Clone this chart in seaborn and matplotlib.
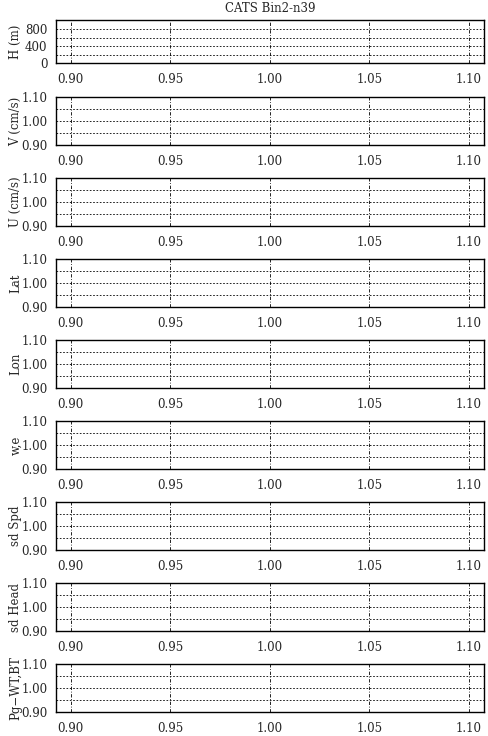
import numpy as np
import matplotlib
matplotlib.use('Agg')
import matplotlib.pyplot as plt
from matplotlib.ticker import FixedLocator, FixedFormatter
import seaborn as sns

# Panel labels (top to bottom)
panel_labels = ['H (m)', 'V (cm/s)', 'U (cm/s)', 'Lat', 'Lon', 'w,e',
                'sd Spd', 'sd Head', 'Pg\u2212WT,BT']

# Shared x axis (no data in any panel)
x_ticks = [0.90, 0.95, 1.00, 1.05, 1.10]
x_tick_labels = ['0.90', '0.95', '1.00', '1.05', '1.10']
x_limits = (0.8925, 1.1075)

# H panel y axis
h_major = [0, 400, 800]
h_minor = [200, 600]
h_limits = (0, 1020)

# Other panels y axis
y_major = [0.90, 1.00, 1.10]
y_labels = ['0.90', '1.00', '1.10']
y_minor = [0.95, 1.05]
y_limits = (0.90, 1.10)

sns.set_style('white')
plt.rcParams['font.family'] = ['DejaVu Serif']
plt.rcParams['font.size'] = 8.5

W, H = 488, 736
fig = plt.figure(figsize=(W / 100, H / 100), dpi=100)

left_px, right_px = 55.7, 484
tops = [20] + [97 + 81 * i for i in range(8)]
heights = [43] + [48] * 8

for i, label in enumerate(panel_labels):
    top, h = tops[i], heights[i]
    ax = fig.add_axes([left_px / W, 1 - (top + h) / H,
                       (right_px - left_px) / W, h / H])
    ax.set_xlim(*x_limits)
    ax.set_xticks(x_ticks)
    ax.set_xticklabels(x_tick_labels)
    if i == 0:
        ax.set_ylim(*h_limits)
        ax.yaxis.set_major_locator(FixedLocator(h_major))
        ax.yaxis.set_major_formatter(FixedFormatter([str(v) for v in h_major]))
        ax.yaxis.set_minor_locator(FixedLocator(h_minor))
    else:
        ax.set_ylim(*y_limits)
        ax.yaxis.set_major_locator(FixedLocator(y_major))
        ax.yaxis.set_major_formatter(FixedFormatter(y_labels))
        ax.yaxis.set_minor_locator(FixedLocator(y_minor))
    ax.xaxis.grid(True, which='major', color='black', linewidth=0.6,
                  linestyle=(0, (4, 2, 1, 2)))
    ax.yaxis.grid(True, which='both', color='black', linewidth=0.6,
                  linestyle=(0, (2, 2)))
    ax.tick_params(axis='both', which='major', length=3, direction='out',
                   color='black', pad=3, labelsize=8.5)
    ax.tick_params(axis='x', which='major', pad=4)
    ax.tick_params(axis='y', which='minor', length=0)
    for s in ax.spines.values():
        s.set_visible(True)
        s.set_color('black')
        s.set_linewidth(1.0)
    ax.set_ylabel(label, fontsize=8.5)
    ax.yaxis.set_label_coords(-0.078, 0.5)
    if i == 0:
        ax.set_title('CATS Bin2-n39', fontsize=8.5, pad=6)

fig.savefig('out.png', dpi=100, facecolor='white')
